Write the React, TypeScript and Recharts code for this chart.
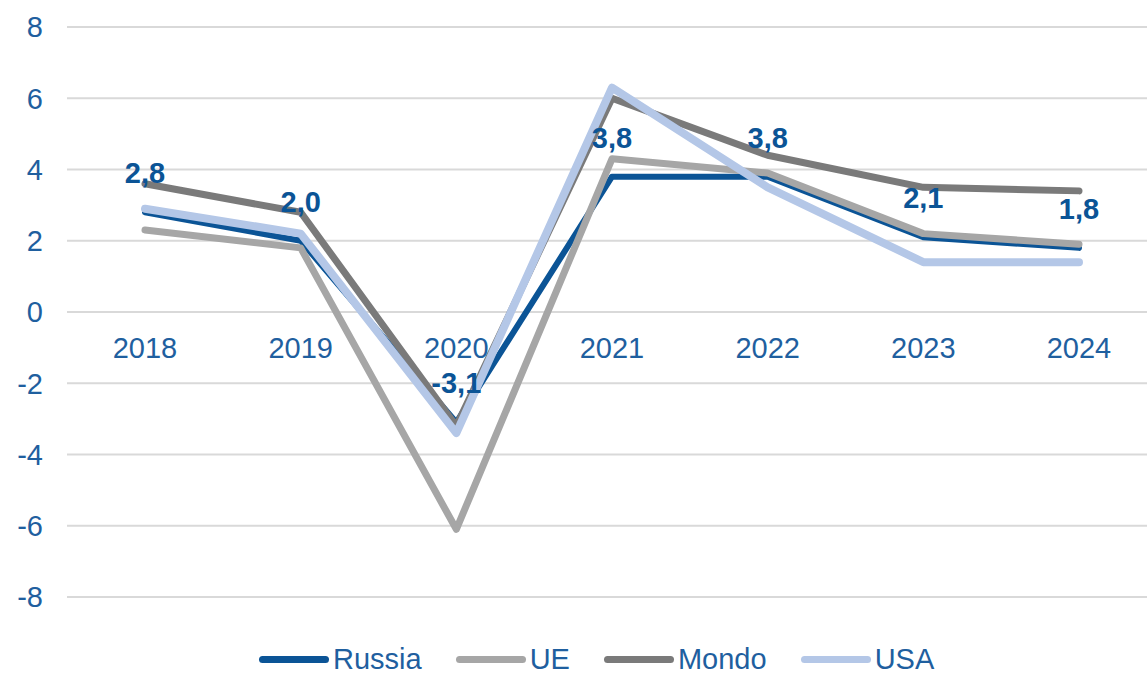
import React from 'react';
import { LineChart, Line, XAxis, YAxis, CartesianGrid, LabelList } from 'recharts';

const years = ['2018', '2019', '2020', '2021', '2022', '2023', '2024'];
const russia = [2.8, 2.0, -3.1, 3.8, 3.8, 2.1, 1.8];
const ue = [2.3, 1.8, -6.1, 4.3, 3.9, 2.2, 1.9];
const mondo = [3.6, 2.8, -3.2, 6.0, 4.4, 3.5, 3.4];
const usa = [2.9, 2.2, -3.4, 6.3, 3.5, 1.4, 1.4];
const yTicks = [-8, -6, -4, -2, 0, 2, 4, 6, 8];

const seriesNames = ['Russia', 'UE', 'Mondo', 'USA'];
const seriesColors = ['#0B5496', '#A6A6A6', '#7A7A7A', '#B4C7E7'];
const seriesWidths = [6, 7, 7, 8];

const data = years.map((y, i) => ({
  year: y,
  Russia: russia[i],
  UE: ue[i],
  Mondo: mondo[i],
  USA: usa[i],
}));

const FONT = '"Liberation Sans", Arial, sans-serif';
const TEXT = '#1F5F9F';

const fmt = (v: number) => v.toFixed(1).replace('.', ',');

const XTick = (props: any) => {
  const { x, y, payload } = props;
  return (
    <text x={x} y={y - 239} textAnchor="middle" fill={TEXT} fontSize={29} fontFamily={FONT}>
      {payload.value}
    </text>
  );
};

export default function App() {
  return (
    <div style={{ position: 'absolute', left: 0, top: 0, width: 1147, height: 674, overflow: 'hidden', background: '#fff' }}>
      <LineChart width={1160} height={674} data={data} margin={{ top: 27, right: 0, left: 0, bottom: 57 }}>
        <CartesianGrid vertical={false} stroke="#D9D9D9" strokeWidth={2} />
        <XAxis
          dataKey="year"
          axisLine={false}
          tickLine={false}
          tickSize={0}
          tickMargin={0}
          height={20}
          padding={{ left: 78, right: 81 }}
          tick={<XTick />}
          interval={0}
        />
        <YAxis
          width={67}
          domain={[-8, 8]}
          ticks={yTicks}
          axisLine={false}
          tickLine={false}
          tickSize={0}
          tickMargin={24}
          interval={0}
          tick={{ fill: TEXT, fontSize: 29, fontFamily: FONT }}
        />
        {seriesNames.map((n, i) => (
          <Line
            key={n}
            type="linear"
            dataKey={n}
            stroke={seriesColors[i]}
            strokeWidth={seriesWidths[i]}
            dot={false}
            activeDot={false}
            strokeLinecap="round"
            strokeLinejoin="round"
            isAnimationActive={false}
          />
        ))}
        <Line
          type="linear"
          dataKey="Russia"
          stroke="none"
          dot={false}
          activeDot={false}
          legendType="none"
          isAnimationActive={false}
        >
          <LabelList
            dataKey="Russia"
            position="top"
            offset={29}
            formatter={(v: any) => fmt(Number(v))}
            style={{ fill: '#0B5496', fontSize: 29, fontWeight: 'bold', fontFamily: FONT }}
          />
        </Line>
      </LineChart>
      <div
        style={{
          position: 'absolute',
          left: 259,
          top: 644,
          height: 30,
          display: 'flex',
          alignItems: 'center',
          fontFamily: FONT,
          fontSize: 29,
          color: TEXT,
          whiteSpace: 'nowrap',
        }}
      >
        {seriesNames.map((n, i) => (
          <div key={n} style={{ display: 'flex', alignItems: 'center', marginRight: 34 }}>
            <div style={{ width: 70, height: 7, borderRadius: 3.5, background: seriesColors[i], marginRight: 4 }} />
            <span>{n}</span>
          </div>
        ))}
      </div>
    </div>
  );
}
